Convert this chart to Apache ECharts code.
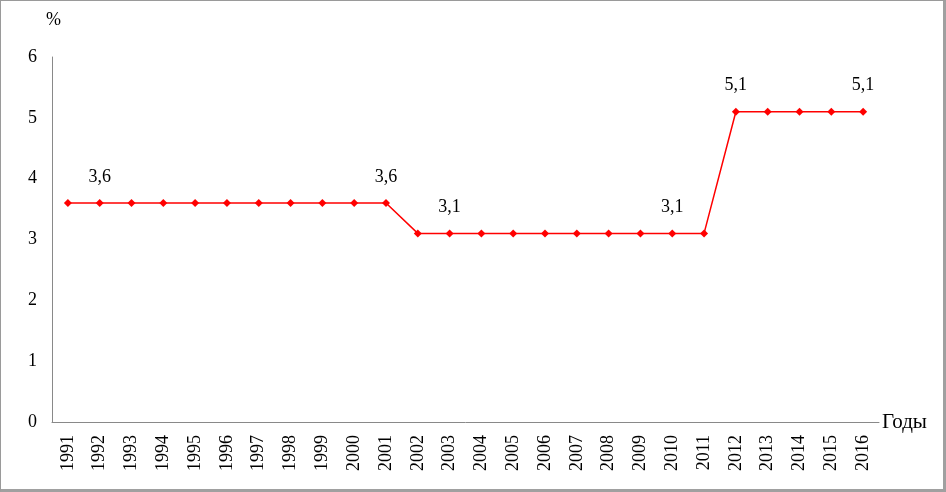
<!DOCTYPE html>
<html><head><meta charset="utf-8">
<script src="https://cdn.jsdelivr.net/npm/echarts@6/dist/echarts.min.js"></script>
<style>
html,body{margin:0;padding:0;background:#fff;}
#frame{position:absolute;left:0;top:0;width:942px;height:488px;border:1px solid #9a9a9a;border-right:3px solid #a0a0a0;border-bottom:3px solid #a0a0a0;box-sizing:content-box;}
#c{position:absolute;left:0;top:0;width:946px;height:492px;}
</style></head>
<body>
<div id="frame"></div>
<div id="c"></div>
<script>
const years = ['1991','1992','1993','1994','1995','1996','1997','1998','1999','2000','2001','2002','2003','2004','2005','2006','2007','2008','2009','2010','2011','2012','2013','2014','2015','2016'];
const values = [3.6,3.6,3.6,3.6,3.6,3.6,3.6,3.6,3.6,3.6,3.6,3.1,3.1,3.1,3.1,3.1,3.1,3.1,3.1,3.1,3.1,5.1,5.1,5.1,5.1,5.1];
const labeledYears = ['1992','2001','2003','2010','2012','2016'];
const yTicks = [0,1,2,3,4,5,6];

const font = '"Liberation Serif","Times New Roman",serif';
const chart = echarts.init(document.getElementById('c'));
chart.setOption({
  animation:false,
  grid:{left:52,right:67,top:57,bottom:70,containLabel:false},
  xAxis:{
    type:'category',data:years,boundaryGap:true,
    name:'Годы',nameLocation:'end',nameGap:3,
    nameTextStyle:{fontFamily:font,fontSize:21,color:'#000',verticalAlign:'middle',padding:[6,0,0,0]},
    axisLine:{lineStyle:{color:'#898989',width:1}},
    axisTick:{show:false},
    axisLabel:{rotate:90,fontFamily:font,fontSize:18,color:'#000',margin:13,interval:0}
  },
  yAxis:{
    type:'value',min:yTicks[0],max:yTicks[yTicks.length-1],interval:1,
    name:'%',nameLocation:'end',nameGap:28,
    nameTextStyle:{fontFamily:font,fontSize:18,color:'#000',align:'left',padding:[0,0,0,-6]},
    axisLine:{show:true,lineStyle:{color:'#898989',width:1}},
    axisTick:{show:false},
    splitLine:{show:false},
    axisLabel:{fontFamily:font,fontSize:18,color:'#000',margin:15}
  },
  series:[{
    type:'line',data:values.map((v,i)=>({value:v,label:{show:labeledYears.includes(years[i])}})),
    symbol:'diamond',symbolSize:8,
    lineStyle:{color:'#ff0000',width:1.5},
    itemStyle:{color:'#ff0000'},
    label:{position:'top',distance:13,fontFamily:font,fontSize:18,color:'#000',
      formatter:p=>String(p.value).replace('.',',')}
  }]
});
</script>
</body></html>
